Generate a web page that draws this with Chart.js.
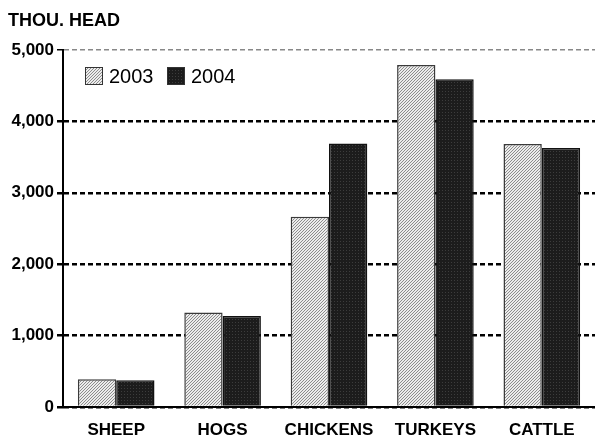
<!DOCTYPE html>
<html>
<head>
<meta charset="utf-8">
<script src="https://cdn.jsdelivr.net/npm/chart.js@4"></script>
<style>
  body { margin: 0; background: #fff; }
  #wrap { width: 595px; height: 438px; }
</style>
</head>
<body>
<div id="wrap"><canvas id="myChart" width="595" height="438"></canvas></div>
<script>
const categories = ['SHEEP', 'HOGS', 'CHICKENS', 'TURKEYS', 'CATTLE'];
const years = ['2003', '2004'];
const values2003 = [387, 1322, 2663, 4790, 3683];
const values2004 = [373, 1275, 3691, 4590, 3627];
const yTicks = [0, 1000, 2000, 3000, 4000, 5000];

// hatch patterns like the print version
function hatch() {
  const c = document.createElement('canvas');
  c.width = 3; c.height = 3;
  const g = c.getContext('2d');
  g.fillStyle = '#ececec';
  g.fillRect(0, 0, 3, 3);
  g.strokeStyle = '#8c8c8c';
  g.lineWidth = 1;
  g.beginPath();
  g.moveTo(0, 3); g.lineTo(3, 0);
  g.moveTo(-1, 1); g.lineTo(1, -1);
  g.moveTo(2, 4); g.lineTo(4, 2);
  g.stroke();
  return g.createPattern(c, 'repeat');
}
function dots() {
  const c = document.createElement('canvas');
  c.width = 3; c.height = 3;
  const g = c.getContext('2d');
  g.fillStyle = '#1c1c1c';
  g.fillRect(0, 0, 3, 3);
  g.fillStyle = '#3c3c3c';
  g.fillRect(1, 1, 1, 1);
  return g.createPattern(c, 'repeat');
}

const ctx = document.getElementById('myChart').getContext('2d');
const fills = [hatch(), dots()];
const FONT = '"Liberation Sans", Arial, sans-serif';

const legendInside = {
  id: 'legendInside',
  afterDraw(chart) {
    const c = chart.ctx;
    c.save();
    c.font = '20px ' + FONT;
    c.textBaseline = 'middle';
    let x = 85;
    const y = 76;
    chart.data.datasets.forEach((ds, i) => {
      c.fillStyle = fills[i];
      c.fillRect(x, y - 9, 18, 18);
      c.strokeStyle = '#333';
      c.lineWidth = 1;
      c.strokeRect(x + 0.5, y - 8.5, 17, 17);
      c.fillStyle = '#000';
      c.fillText(ds.label, x + 24, y + 1);
      x += 82;
    });
    // unit title
    c.font = 'bold 18px ' + FONT;
    c.textBaseline = 'alphabetic';
    c.fillText('THOU. HEAD', 8, 26);
    c.restore();
  }
};

new Chart(ctx, {
  type: 'bar',
  data: {
    labels: categories,
    datasets: [{
      label: years[0],
      data: values2003,
      backgroundColor: fills[0],
      borderColor: '#3a3a3a',
      borderWidth: 1.5,
      categoryPercentage: 0.72,
      barPercentage: 1
    }, {
      label: years[1],
      data: values2004,
      backgroundColor: fills[1],
      borderColor: '#111',
      borderWidth: 1.5,
      categoryPercentage: 0.72,
      barPercentage: 1
    }]
  },
  options: {
    responsive: false,
    animation: false,
    layout: { padding: { top: 50, right: 0, left: 0, bottom: 0 } },
    plugins: {
      legend: { display: false },
      tooltip: { enabled: false }
    },
    scales: {
      x: {
        afterFit: s => { s.height = 31; },
        grid: { display: false },
        border: { color: '#000', width: 2 },
        ticks: {
          color: '#000',
          padding: 5,
          font: { family: FONT, size: 17, weight: 'bold' }
        }
      },
      y: {
        min: 0,
        max: 5000,
        afterFit: s => { s.width = 63; },
        afterBuildTicks: s => { s.ticks = yTicks.map(v => ({ value: v })); },
        border: { color: '#000', width: 2, dash: [5, 3] },
        grid: {
          color: c => c.tick && c.tick.value === 5000 ? '#888' : '#000',
          lineWidth: c => c.tick && c.tick.value === 5000 ? 1.5 : 2.5,
          tickLength: 6,
          tickColor: '#000'
        },
        ticks: {
          color: '#000',
          padding: 3,
          font: { family: FONT, size: 17, weight: 'bold' },
          callback: v => v.toLocaleString('en-US')
        }
      }
    }
  },
  plugins: [legendInside]
});
</script>
</body>
</html>
